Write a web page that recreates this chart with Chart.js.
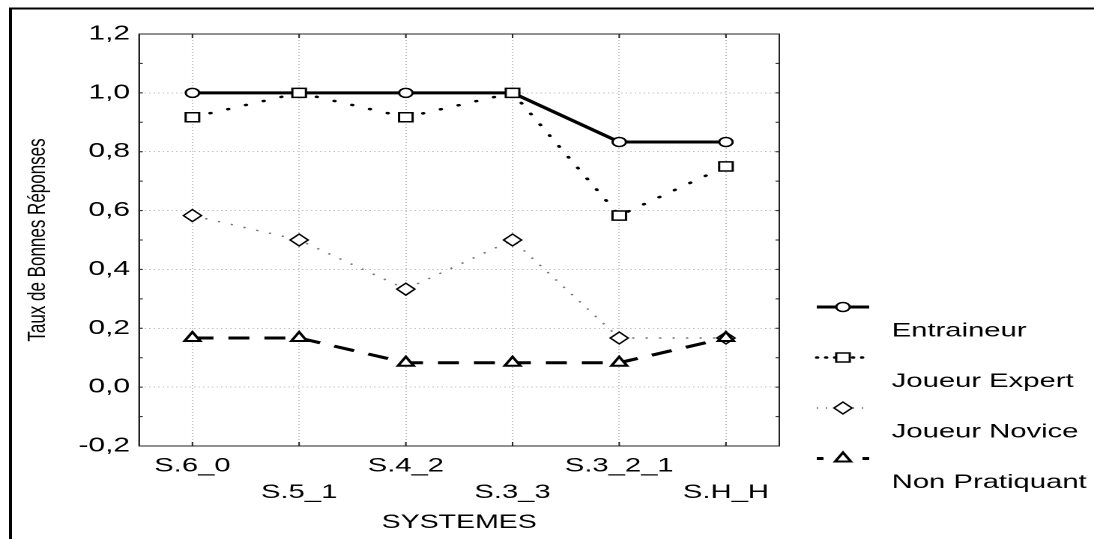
<!DOCTYPE html>
<html>
<head>
<meta charset="utf-8">
<script src="https://cdn.jsdelivr.net/npm/chart.js@4.4.1/dist/chart.umd.min.js"></script>
<style>
  html, body { margin: 0; padding: 0; background: #fff; overflow: hidden; }
  #wrap { position: absolute; left: 0; top: 0; width: 730px; height: 539px;
          transform: scaleX(1.49863); transform-origin: 0 0; }
</style>
</head>
<body>
<div id="wrap"><canvas id="grafica" width="730" height="539"></canvas></div>
<script>
const categorias = ['S.6_0', 'S.5_1', 'S.4_2', 'S.3_3', 'S.3_2_1', 'S.H_H'];
const entraineur = [1.0, 1.0, 1.0, 1.0, 0.833, 0.833];
const joueurExpert = [0.917, 1.0, 0.917, 1.0, 0.583, 0.75];
const joueurNovice = [0.583, 0.5, 0.333, 0.5, 0.167, 0.167];
const nonPratiquant = [0.167, 0.167, 0.083, 0.083, 0.083, 0.167];
const nomsSeries = ['Entraineur', 'Joueur Expert', 'Joueur Novice', 'Non Pratiquant'];
const yMin = -0.2, yMax = 1.2, yPas = 0.2;

Chart.defaults.font.family = "'Liberation Sans', Arial, sans-serif";
Chart.defaults.color = '#000';

const FONT = "'Liberation Sans', Arial, sans-serif";
const grille = '#c4c4c4';
const pointilles = [1, 2];

// dash patterns used for the little legend samples
const tiretsLegende = [[], [0.5, 5.5], [1, 5], [4.5, 26]];

const cadre = {
    id: 'cadre',
    beforeDraw(chart) {
        const ctx = chart.ctx;
        ctx.save();
        ctx.strokeStyle = '#000';
        ctx.lineWidth = 2;
        ctx.beginPath();
        ctx.moveTo(7, 700);
        ctx.lineTo(7, 8.5);
        ctx.lineTo(900, 8.5);
        ctx.stroke();
        ctx.restore();
    },
    beforeDatasetsDraw(chart) {
        const {ctx, chartArea: a, scales} = chart;
        ctx.save();
        ctx.strokeStyle = '#222';
        ctx.lineWidth = 1;
        ctx.setLineDash([]);
        ctx.strokeRect(a.left, a.top, a.right - a.left, a.bottom - a.top);
        ctx.beginPath();
        for (let k = 0; k <= 14; k++) {
            const py = scales.y.getPixelForValue(yMin + k * 0.1);
            ctx.moveTo(a.left, py); ctx.lineTo(a.left + 2.5, py);
            ctx.moveTo(a.right, py); ctx.lineTo(a.right - 2.5, py);
        }
        categorias.forEach((c, i) => {
            const px = scales.x.getPixelForValue(i);
            ctx.moveTo(px, a.bottom); ctx.lineTo(px, a.bottom - 4);
            ctx.moveTo(px, a.top); ctx.lineTo(px, a.top + 4);
        });
        ctx.stroke();
        ctx.restore();
    },
    afterDraw(chart) {
        const {ctx, chartArea: a} = chart;
        const x0 = a.right + 25, x1 = x0 + 35;
        ctx.save();
        chart.data.datasets.forEach((ds, i) => {
            const yl = a.top + 273 + i * 50.5;
            ctx.strokeStyle = ds.borderColor;
            ctx.lineWidth = ds.borderWidth;
            ctx.lineCap = i === 1 ? 'round' : 'butt';
            ctx.setLineDash(tiretsLegende[i]);
            ctx.beginPath();
            ctx.moveTo(x0, yl); ctx.lineTo(x1, yl);
            ctx.stroke();
            ctx.setLineDash([]);
            ctx.fillStyle = ds.pointBackgroundColor;
            ctx.strokeStyle = ds.pointBorderColor;
            ctx.lineWidth = ds.pointBorderWidth;
            const opts = {pointStyle: ds.pointStyle, radius: ds.pointRadius, rotation: 0, borderWidth: ds.pointBorderWidth};
            if (Chart.helpers && Chart.helpers.drawPoint) {
                Chart.helpers.drawPoint(ctx, opts, (x0 + x1) / 2, yl);
            } else {
                ctx.beginPath(); ctx.arc((x0 + x1) / 2, yl, ds.pointRadius, 0, Math.PI * 2); ctx.fill(); ctx.stroke();
            }
            ctx.fillStyle = '#000';
            ctx.font = '19.5px ' + FONT;
            ctx.textAlign = 'left';
            ctx.textBaseline = 'middle';
            ctx.fillText(ds.label, x0 + 50, yl + 24);
        });
        ctx.restore();
    }
};

const serie = (nom, valeurs, style) => Object.assign({
    label: nom,
    data: valeurs,
    borderColor: '#000',
    pointBackgroundColor: '#fff',
    pointBorderColor: '#000',
    pointBorderWidth: 1.5,
    pointHoverRadius: 0,
    tension: 0,
    fill: false
}, style);

new Chart(document.getElementById('grafica'), {
    type: 'line',
    data: {
        labels: categorias,
        datasets: [
            serie(nomsSeries[0], entraineur, {borderWidth: 3, pointStyle: 'circle', pointRadius: 4.5, order: 4}),
            serie(nomsSeries[1], joueurExpert, {borderWidth: 2.5, borderDash: [0.5, 12], borderCapStyle: 'round', pointStyle: 'rect', pointRadius: 6.4, order: 3}),
            serie(nomsSeries[2], joueurNovice, {borderWidth: 1.5, borderColor: '#777', borderDash: [1.5, 7.5], pointStyle: 'rectRot', pointRadius: 6, pointBorderWidth: 1.3, order: 2}),
            serie(nomsSeries[3], nonPratiquant, {borderWidth: 3, borderDash: [14, 10], pointStyle: 'triangle', pointRadius: 6, pointBorderWidth: 2, order: 1})
        ]
    },
    options: {
        responsive: false,
        animation: false,
        devicePixelRatio: 2,
        layout: {padding: {left: 0, top: 34, right: 210, bottom: 0}},
        plugins: {legend: {display: false}, tooltip: {enabled: false}},
        scales: {
            x: {
                type: 'category',
                offset: true,
                grid: {offset: false, color: grille, lineWidth: 1, drawTicks: false},
                border: {display: true, color: '#222', width: 1, dash: pointilles},
                ticks: {
                    autoSkip: false, maxRotation: 0, minRotation: 0, padding: 7,
                    font: {size: 19.5, lineHeight: 1.35},
                    callback(v, i) {
                        const l = this.getLabelForValue(v);
                        return i % 2 ? ['', l] : l;
                    }
                },
                title: {display: true, text: 'SYSTEMES', font: {size: 19}, padding: {top: 0, bottom: 5}},
                afterFit(s) { s.height = 93; }
            },
            y: {
                min: yMin,
                max: yMax,
                grid: {color: grille, lineWidth: 1, drawTicks: false},
                border: {display: true, color: '#222', width: 1, dash: pointilles},
                ticks: {
                    stepSize: yPas, padding: 6, font: {size: 20},
                    callback: v => v.toFixed(1).replace('.', ',').replace('-0,0', '0,0')
                },
                title: {display: true, text: 'Taux de Bonnes Réponses', font: {size: 17}, padding: {top: 15, bottom: 0}},
                afterFit(s) { s.width = 92.8; }
            }
        }
    },
    plugins: [cadre]
});
</script>
</body>
</html>
